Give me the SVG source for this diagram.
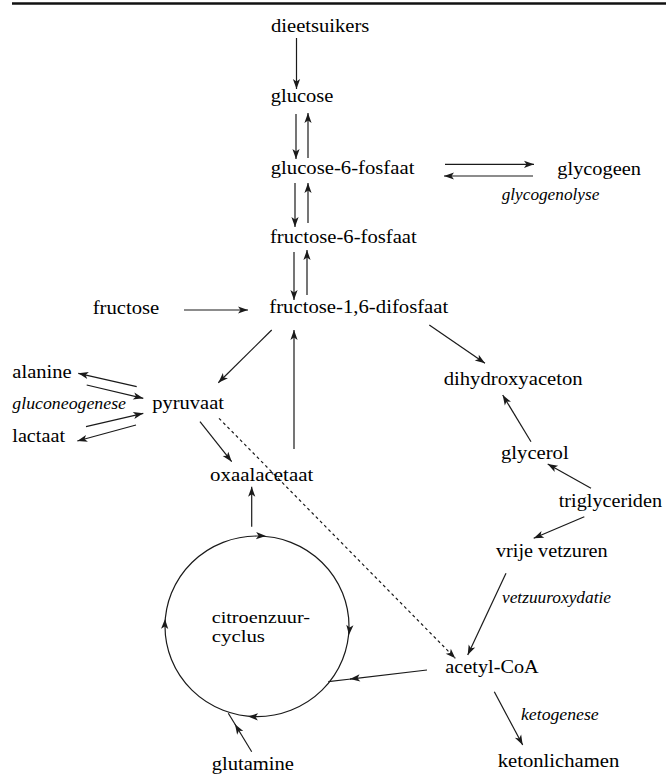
<svg xmlns="http://www.w3.org/2000/svg" xmlns:xlink="http://www.w3.org/1999/xlink" width="666" height="777" viewBox="0 0 666 777">
<style>
text{font-family:'Liberation Serif','DejaVu Serif','Noto Serif',serif;font-size:18.5px;fill:#000}
text.it{font-style:italic;font-size:16px}
text.sm{font-size:16px}
.c{stroke:#1a1a1a;stroke-width:1.2;fill:none}
.a{marker-end:url(#ah)}
.d{stroke-dasharray:3 3}
</style>
<defs>
<marker id="ah" markerUnits="userSpaceOnUse" markerWidth="12" markerHeight="9" viewBox="-11 -4.5 12 9" refX="0" refY="0" orient="auto">
<path d="M0,0 L-10,-3.6 L-7.5,0 L-10,3.6 Z" fill="#1a1a1a"/>
</marker>
<path id="head" d="M0,0 L-10,-3.6 L-7.5,0 L-10,3.6 Z" fill="#1a1a1a"/>
</defs>
<rect width="666" height="777" fill="#fff"/>
<line x1="12" y1="3.5" x2="666" y2="3.5" stroke="#111" stroke-width="2.5"/>

<g id="connectors">
<path class="c a" d="M296.5,38 L296.5,89"/>
<path class="c a" d="M296,114 L296,159"/>
<path class="c a" d="M308,158 L308,113"/>
<path class="c a" d="M295,183 L295,227"/>
<path class="c a" d="M308,223 L308,183"/>
<path class="c a" d="M294,252 L294,300"/>
<path class="c a" d="M307,295 L307,250"/>
<path class="c a" d="M445,164.3 L534,164.3"/>
<path class="c a" d="M533,176 L444,176"/>
<path class="c a" d="M184,310 L248,310"/>
<path class="c a" d="M271.7,330 L218.3,382.7"/>
<path class="c a" d="M294,449 L294,330"/>
<path class="c a" d="M429.3,325 L485,363.3"/>
<path class="c a" d="M136.7,386.7 L78.3,373.3"/>
<path class="c a" d="M86.7,385 L143.3,398.3"/>
<path class="c a" d="M86,426.7 L143.3,413.3"/>
<path class="c a" d="M136,425 L77.3,441"/>
<path class="c a" d="M200,421.7 L231.7,461.7"/>
<path class="c a d" d="M219,418.3 L455.3,658.3"/>
<path class="c a" d="M251.7,526.7 L251.7,486.7"/>
<path class="c a" d="M531,441.7 L502.7,395"/>
<path class="c a" d="M591,488.3 L547.7,464"/>
<path class="c a" d="M584.3,516.7 L533.7,538.3"/>
<path class="c a" d="M506,573.3 L467.7,655"/>
<path class="c a" d="M427,670 L350,679.1"/>
<path class="c" d="M351,679 L328.3,681.7"/>
<path class="c a" d="M251.7,751.7 L235,724.3"/>
<path class="c" d="M235.5,725 L228.3,713.3"/>
<path class="c a" d="M494.3,691.7 L522.7,745"/>
</g>

<g id="citroenzuurcyclus">
<ellipse class="c" cx="257" cy="626.3" rx="92" ry="90.3"/>
<use xlink:href="#head" transform="translate(266,536.1) rotate(3)"/>
<use xlink:href="#head" transform="translate(349,635) rotate(95)"/>
<use xlink:href="#head" transform="translate(248,716.5) rotate(182)"/>
<use xlink:href="#head" transform="translate(165,619) rotate(-88)"/>
<text class="sm" x="211.7" y="623.3" textLength="98.3" lengthAdjust="spacingAndGlyphs">citroenzuur-</text>
<text class="sm" x="211.7" y="641.6" textLength="53.3" lengthAdjust="spacingAndGlyphs">cyclus</text>
</g>

<g id="dieetsuikers"><text x="271" y="32.3" textLength="98.3" lengthAdjust="spacingAndGlyphs">dieetsuikers</text></g>
<g id="glucose"><text x="270.7" y="101.7" textLength="62.7" lengthAdjust="spacingAndGlyphs">glucose</text></g>
<g id="glucose-6-fosfaat"><text x="270.7" y="174.3" textLength="143.7" lengthAdjust="spacingAndGlyphs">glucose-6-fosfaat</text></g>
<g id="glycogeen"><text x="557.3" y="175" textLength="83.7" lengthAdjust="spacingAndGlyphs">glycogeen</text></g>
<g id="glycogenolyse"><text class="it" x="501.7" y="200" textLength="97.6" lengthAdjust="spacingAndGlyphs">glycogenolyse</text></g>
<g id="fructose-6-fosfaat"><text x="270" y="242.7" textLength="146.7" lengthAdjust="spacingAndGlyphs">fructose-6-fosfaat</text></g>
<g id="fructose"><text x="92.7" y="314.3" textLength="66.6" lengthAdjust="spacingAndGlyphs">fructose</text></g>
<g id="fructose-1-6-difosfaat"><text x="269.3" y="313.3" textLength="179" lengthAdjust="spacingAndGlyphs">fructose-1,6-difosfaat</text></g>
<g id="alanine"><text x="12.3" y="378.3" textLength="59.4" lengthAdjust="spacingAndGlyphs">alanine</text></g>
<g id="gluconeogenese"><text class="it" x="12.3" y="409.3" textLength="113.7" lengthAdjust="spacingAndGlyphs">gluconeogenese</text></g>
<g id="pyruvaat"><text x="152.3" y="409.3" textLength="71.7" lengthAdjust="spacingAndGlyphs">pyruvaat</text></g>
<g id="lactaat"><text x="12.3" y="441.7" textLength="52.7" lengthAdjust="spacingAndGlyphs">lactaat</text></g>
<g id="oxaalacetaat"><text x="210" y="480.7" textLength="103.3" lengthAdjust="spacingAndGlyphs">oxaalacetaat</text></g>
<g id="dihydroxyaceton"><text x="443.7" y="385" textLength="139" lengthAdjust="spacingAndGlyphs">dihydroxyaceton</text></g>
<g id="glycerol"><text x="501" y="459" textLength="67.7" lengthAdjust="spacingAndGlyphs">glycerol</text></g>
<g id="triglyceriden"><text x="558.7" y="506.7" textLength="103.3" lengthAdjust="spacingAndGlyphs">triglyceriden</text></g>
<g id="vrije-vetzuren"><text x="496" y="556.7" textLength="111.7" lengthAdjust="spacingAndGlyphs">vrije vetzuren</text></g>
<g id="vetzuuroxydatie"><text class="it" x="502" y="603.3" textLength="109" lengthAdjust="spacingAndGlyphs">vetzuuroxydatie</text></g>
<g id="acetyl-CoA"><text x="445.3" y="673.3" textLength="93.4" lengthAdjust="spacingAndGlyphs">acetyl-CoA</text></g>
<g id="ketogenese"><text class="it" x="521" y="720" textLength="77.7" lengthAdjust="spacingAndGlyphs">ketogenese</text></g>
<g id="glutamine"><text x="211.7" y="769.5" textLength="82.3" lengthAdjust="spacingAndGlyphs">glutamine</text></g>
<g id="ketonlichamen"><text x="497.7" y="766.7" textLength="121.6" lengthAdjust="spacingAndGlyphs">ketonlichamen</text></g>
</svg>
